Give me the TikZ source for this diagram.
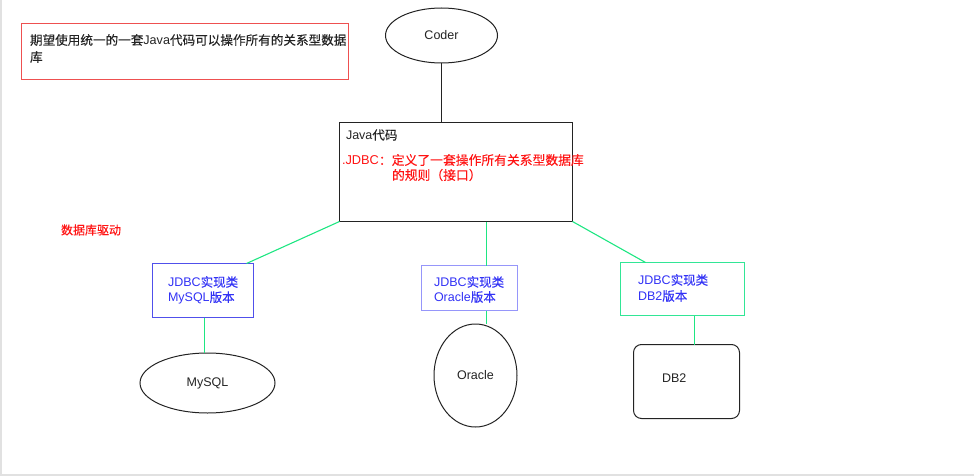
\documentclass[tikz,border=0pt]{standalone}
\usepackage{fontspec}
\setmainfont{Noto Sans CJK SC}[FakeBold=0.25]
\newfontfamily\latf{Liberation Sans}
\newcommand\latn[1]{{\latf #1}}
\usetikzlibrary{shapes.geometric}
\definecolor{noteRed}{RGB}{238,80,80}
\definecolor{txtRed}{RGB}{255,20,20}
\definecolor{lnGreen}{RGB}{30,230,130}
\definecolor{txtBlue}{RGB}{50,50,245}
\definecolor{bxBlue}{RGB}{80,80,235}
\definecolor{bxLav}{RGB}{150,150,250}
\definecolor{bxGreen}{RGB}{50,230,150}
\definecolor{ink}{RGB}{35,35,35}
\definecolor{frame}{RGB}{225,225,225}
\begin{document}
\begin{tikzpicture}[x=1pt,y=-1pt,
  every node/.style={inner sep=0pt, outer sep=0pt},
  txt/.style={anchor=west, font=\fontsize{12.5}{15}\selectfont, text=ink},
  oval/.style={ellipse, draw=ink, line width=1pt, font=\fontsize{12.5}{15}\selectfont\latf, text=ink},
  glink/.style={draw=lnGreen, line width=1.1pt},
  blink/.style={draw=ink, line width=1pt}]
\useasboundingbox (0,0) rectangle (974,476);
\draw[frame, line width=1.5pt] (1,0) -- (1,475) -- (974,475);

% note box
\node[draw=noteRed, line width=1pt, minimum width=327pt, minimum height=56pt] (note) at (185,51.5) {};
\node[txt, font=\fontsize{12.6}{15}\selectfont] (note1) at (30,40) {期望使用统一的一套\latn{Java}代码可以操作所有的关系型数据};
\node[txt, font=\fontsize{12.6}{15}\selectfont] (note2) at (30,57) {库};

% coder
\node[oval, minimum width=112pt, minimum height=55pt] (coder) at (441.5,35.5) {Coder};

% java box
\node[draw=ink, line width=1pt, minimum width=233pt, minimum height=99pt] (java) at (456,172) {};
\node[txt] (javat) at (346,135) {\latn{Java}代码};
\node[txt, text=txtRed, font=\fontsize{12.8}{15}\selectfont] (jdbc1) at (342,160) {\latn{.JDBC}：定义了一套操作所有关系型数据库};
\node[txt, text=txtRed, font=\fontsize{12.8}{15}\selectfont] (jdbc2) at (392,175) {的规则（接口）};

\draw[blink] (coder.south) -- (coder.south |- java.north);

% driver label
\node[txt, text=txtRed, font=\fontsize{12}{14}\selectfont] (drv) at (61,230) {数据库驱动};

% implementation boxes
\node[draw=bxBlue, line width=1pt, minimum width=101pt, minimum height=54pt] (mbox) at (203,290.5) {};
\node[txt, text=txtBlue] (m1) at (168,282) {\latn{JDBC}实现类};
\node[txt, text=txtBlue] (m2) at (168,298) {\latn{MySQL}版本};

\node[draw=bxLav, line width=1pt, minimum width=96pt, minimum height=45pt] (obox) at (469.5,288) {};
\node[txt, text=txtBlue] (o1) at (434,282) {\latn{JDBC}实现类};
\node[txt, text=txtBlue] (o2) at (434,297) {\latn{Oracle}版本};

\node[draw=bxGreen, line width=1.1pt, minimum width=124pt, minimum height=53pt] (dbox) at (682.5,289) {};
\node[txt, text=txtBlue] (d1) at (638,280) {\latn{JDBC}实现类};
\node[txt, text=txtBlue] (d2) at (638,296) {\latn{DB2}版本};

% databases
\node[oval, minimum width=135pt, minimum height=60pt] (mysql) at (207.5,383) {MySQL};
\node[oval, minimum width=83pt, minimum height=103pt] (oracle) at (475.5,375.5) {Oracle};
\node[draw=ink, line width=1pt, rounded corners=8pt, minimum width=106pt, minimum height=74pt] (db2) at (686.5,381.5) {};
\node[txt, font=\fontsize{12.5}{15}\selectfont\latf] (db2t) at (662,378) {DB2};

% green connectors
\draw[glink] (java.south west) -- ([xshift=-7pt]mbox.north east);
\draw[glink] ([xshift=65pt]obox.north west |- java.south) -- ([xshift=65pt]obox.north west);
\draw[glink] (java.south east) -- ([xshift=25pt]dbox.north west);

\draw[glink] ([xshift=1.5pt]mbox.south) -- ([xshift=1.5pt]mbox.south |- mysql.north);
\draw[glink] ([xshift=65pt]obox.south west) -- ([xshift=65pt]obox.south west |- oracle.north);
\draw[glink] ([xshift=12pt]dbox.south) -- ([xshift=12pt]dbox.south |- db2.north);
\end{tikzpicture}
\end{document}
